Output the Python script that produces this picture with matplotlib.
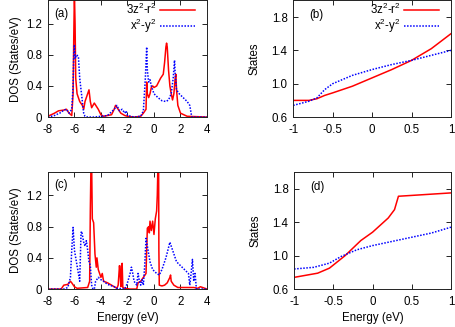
import numpy as np
import matplotlib
matplotlib.use("Agg")
import matplotlib.pyplot as plt

plt.rcParams["font.family"] = ["Liberation Sans", "DejaVu Sans"]
plt.rcParams["mathtext.fontset"] = "custom"
plt.rcParams["mathtext.rm"] = "Liberation Sans"
plt.rcParams["axes.unicode_minus"] = False
FS = 8.3

# ---- panel (a): DOS, 3z2-r2 (red) and x2-y2 (blue) ----
a_red_e = [-8, -7.5, -7.2, -6.8, -6.6, -6.4, -6.2, -6.1, -6.05, -6.0, -5.95, -5.9, -5.8, -5.6,
           -5.4, -5.3, -5.2, -5.0, -4.9, -4.8, -4.7, -4.6, -4.5, -4.2, -4.0, -3.8, -3.5, -3.2,
           -3.0, -2.9, -2.7, -2.5, -2.2, -2.0, -1.5, -1.0, -0.8, -0.6, -0.55, -0.5, -0.4, -0.3,
           -0.2, -0.1, 0.0, 0.2, 0.5, 0.7, 0.8, 0.9, 0.95, 1.0, 1.1, 1.2, 1.3, 1.4, 1.5, 1.6,
           1.65, 1.7, 1.8, 2.0, 2.5, 4.0]
a_red_d = [0.01, 0.05, 0.08, 0.09, 0.10, 0.05, 0.02, 0.30, 1.00, 1.60, 1.20, 0.50, 0.30, 0.20,
           0.15, 0.10, 0.20, 0.30, 0.35, 0.20, 0.12, 0.15, 0.18, 0.10, 0.03, 0.01, 0.02, 0.03,
           0.10, 0.15, 0.10, 0.05, 0.02, 0.01, 0.00, 0.01, 0.05, 0.10, 0.45, 0.30, 0.25, 0.30,
           0.38, 0.40, 0.38, 0.40, 0.50, 0.55, 0.70, 0.90, 0.95, 0.90, 0.60, 0.40, 0.30, 0.22,
           0.30, 0.50, 0.55, 0.35, 0.15, 0.05, 0.01, 0.00]
a_blue_e = [-8, -7.5, -7.0, -6.8, -6.6, -6.4, -6.2, -6.1, -6.05, -6.0, -5.95, -5.85, -5.7, -5.6,
            -5.5, -5.4, -5.3, -5.2, -5.0, -4.5, -4.0, -3.5, -3.0, -2.8, -2.6, -2.4, -2.2, -2.1,
            -2.0, -1.5, -1.0, -0.8, -0.65, -0.55, -0.5, -0.4, -0.3, -0.2, 0.0, 0.3, 0.6, 0.9,
            1.1, 1.3, 1.45, 1.55, 1.6, 1.7, 1.9, 2.2, 2.5, 2.7, 2.8, 2.85, 4.0]
a_blue_d = [0.00, 0.02, 0.06, 0.09, 0.10, 0.05, 0.10, 0.40, 0.80, 0.93, 0.75, 0.80, 0.78, 0.50,
            0.35, 0.20, 0.05, 0.01, 0.00, 0.00, 0.01, 0.02, 0.10, 0.15, 0.08, 0.10, 0.05, 0.08,
            0.02, 0.00, 0.01, 0.08, 0.50, 0.90, 0.60, 0.45, 0.48, 0.40, 0.30, 0.25, 0.21, 0.20,
            0.22, 0.30, 0.50, 0.73, 0.55, 0.35, 0.30, 0.25, 0.20, 0.15, 0.05, 0.00, 0.00]

# ---- panel (b): integrated states ----
b_e = [-1.0, -0.8, -0.7, -0.6, -0.5, -0.25, 0.0, 0.25, 0.5, 0.75, 1.0]
b_red = [0.80, 0.80, 0.82, 0.86, 0.89, 0.97, 1.07, 1.17, 1.28, 1.42, 1.60]
b_blue = [0.74, 0.79, 0.83, 0.93, 1.00, 1.10, 1.17, 1.23, 1.28, 1.34, 1.40]

# ---- panel (c): DOS ----
c_red_e = [-8, -7.0, -6.8, -6.5, -6.3, -6.2, -6.0, -5.8, -5.0, -4.85, -4.8, -4.75, -4.7, -4.65,
           -4.55, -4.45, -4.35, -4.3, -4.2, -4.1, -4.0, -3.9, -3.8, -3.5, -3.0, -2.8, -2.7,
           -2.6, -2.55, -2.5, -2.45, -2.4, -2.35, -2.2, -1.8, -1.3, -1.2, -1.0, -0.8, -0.6,
           -0.55, -0.5, -0.4, -0.35, -0.3, -0.2, -0.1, 0.0, 0.1, 0.2, 0.25, 0.3, 0.35, 0.37,
           0.4, 0.6, 0.8, 1.0, 1.2, 1.25, 1.3, 1.5, 1.8, 2.5, 3.0, 3.3, 3.5, 4.0]
c_red_d = [0.00, 0.00, 0.05, 0.06, 0.10, 0.08, 0.03, 0.01, 0.02, 0.10, 1.00, 1.60, 1.60, 0.90,
           0.85, 0.45, 0.28, 0.40, 0.25, 0.20, 0.15, 0.20, 0.10, 0.08, 0.03, 0.01, 0.05,
           0.30, 0.20, 0.03, 0.30, 0.33, 0.02, 0.01, 0.00, 0.00, 0.08, 0.10, 0.15, 0.20,
           0.50, 0.78, 0.80, 0.72, 0.87, 0.75, 0.87, 0.70, 0.90, 1.00, 1.20, 1.60, 1.60, 0.50,
           0.05, 0.04, 0.05, 0.08, 0.15, 0.18, 0.10, 0.05, 0.02, 0.02, 0.02, 0.01, 0.03, 0.00]
c_blue_e = [-8, -6.8, -6.5, -6.3, -6.2, -6.1, -6.0, -5.8, -5.6, -5.5, -5.45, -5.3, -5.2, -5.1,
            -5.0, -4.9, -4.8, -4.7, -4.6, -4.5, -4.4, -4.2, -4.0, -3.8, -3.5, -3.0, -2.8, -2.2,
            -2.0, -1.8, -1.7, -1.6, -1.5, -1.3, -1.2, -1.1, -1.0, -0.9, -0.8, -0.7, -0.6, -0.5,
            -0.4, -0.3, -0.1, 0.2, 0.4, 0.6, 0.9, 1.2, 1.4, 1.7, 2.0, 2.3, 2.6, 2.7, 2.8, 2.9,
            3.0, 3.1, 3.2, 4.0]
c_blue_d = [0.00, 0.00, 0.02, 0.15, 0.50, 0.79, 0.50, 0.30, 0.10, 0.72, 0.74, 0.60, 0.55, 0.62,
            0.50, 0.35, 0.30, 0.05, 0.00, 0.00, 0.10, 0.15, 0.12, 0.10, 0.06, 0.03, 0.01, 0.00,
            0.08, 0.20, 0.28, 0.20, 0.10, 0.05, 0.20, 0.10, 0.05, 0.12, 0.05, 0.30, 0.65, 0.55,
            0.45, 0.35, 0.25, 0.20, 0.18, 0.25, 0.40, 0.60, 0.50, 0.35, 0.30, 0.25, 0.20, 0.05,
            0.20, 0.38, 0.10, 0.20, 0.00, 0.00]

# ---- panel (d): integrated states ----
d_red_e = [-1.0, -0.7, -0.55, -0.35, -0.15, 0.0, 0.2, 0.28, 0.33, 0.5, 1.0]
d_red = [0.74, 0.79, 0.85, 1.00, 1.18, 1.28, 1.45, 1.55, 1.71, 1.72, 1.75]
d_blue_e = [-1.0, -0.75, -0.55, -0.4, -0.2, 0.0, 0.25, 0.5, 0.75, 1.0]
d_blue = [0.84, 0.86, 0.91, 0.99, 1.07, 1.12, 1.17, 1.22, 1.27, 1.34]

labels = ["3z$^\\mathregular{2}$-r$^\\mathregular{2}$", "x$^\\mathregular{2}$-y$^\\mathregular{2}$"]

fig = plt.figure(figsize=(4.56, 3.27), dpi=100)
ax_a = fig.add_axes([0.105, 0.642, 0.349, 0.357])
ax_b = fig.add_axes([0.643, 0.642, 0.346, 0.357])
ax_c = fig.add_axes([0.105, 0.116, 0.349, 0.358])
ax_d = fig.add_axes([0.645, 0.116, 0.344, 0.358])


def style(ax):
    ax.tick_params(direction="in", top=True, right=True, labelsize=FS, length=3.5, width=0.6)
    ax.tick_params(axis="x", pad=5)
    ax.tick_params(axis="y", pad=4)
    for s in ax.spines.values():
        s.set_linewidth(0.7)
        s.set_color("#222222")


def dos_panel(ax, er, dr, eb, db, tag):
    ax.plot(er, dr, color="red", lw=1.1, label=labels[0])
    ax.plot(eb, db, color="blue", lw=1.1, ls=(0, (1, 1)), label=labels[1])
    ax.set_xlim(-8, 4)
    ax.set_ylim(0, 1.5)
    ax.set_xticks([-8, -6, -4, -2, 0, 2, 4])
    ax.set_yticks([0, 0.4, 0.8, 1.2])
    ax.set_yticklabels(["0", "0.4", "0.8", "1.2"])
    ax.set_ylabel("DOS (States/eV)", fontsize=FS, labelpad=3)
    ax.text(0.04, 0.86, tag, transform=ax.transAxes, fontsize=FS)
    style(ax)


def states_panel(ax, er, r, eb, b, tag):
    ax.plot(er, r, color="red", lw=1.1, label=labels[0])
    ax.plot(eb, b, color="blue", lw=1.1, ls=(0, (1, 1)), label=labels[1])
    ax.set_xlim(-1, 1)
    ax.set_ylim(0.6, 2.0)
    ax.set_xticks([-1, -0.5, 0, 0.5, 1])
    ax.set_xticklabels(["-1", "-0.5", "0", "0.5", "1"])
    ax.set_yticks([0.6, 1.0, 1.4, 1.8])
    ax.set_yticklabels(["0.6", "1.0", "1.4", "1.8"])
    ax.set_ylabel("States", fontsize=FS, labelpad=8)
    ax.text(0.10, 0.85, tag, transform=ax.transAxes, fontsize=FS)
    style(ax)


def key(ax):
    ax.legend(loc="upper right", bbox_to_anchor=(0.93, 1.0), frameon=False, markerfirst=False,
              fontsize=FS, handlelength=3.0, handletextpad=0.3, labelspacing=0.0,
              borderaxespad=0.0, borderpad=0.1)


dos_panel(ax_a, a_red_e, a_red_d, a_blue_e, a_blue_d, "(a)")
states_panel(ax_b, b_e, b_red, b_e, b_blue, "(b)")
dos_panel(ax_c, c_red_e, c_red_d, c_blue_e, c_blue_d, "(c)")
states_panel(ax_d, d_red_e, d_red, d_blue_e, d_blue, "(d)")
key(ax_a)
key(ax_b)
ax_c.set_xlabel("Energy (eV)", fontsize=FS, labelpad=3)
ax_d.set_xlabel("Energy (eV)", fontsize=FS, labelpad=3)

fig.savefig("out.png", dpi=100)
